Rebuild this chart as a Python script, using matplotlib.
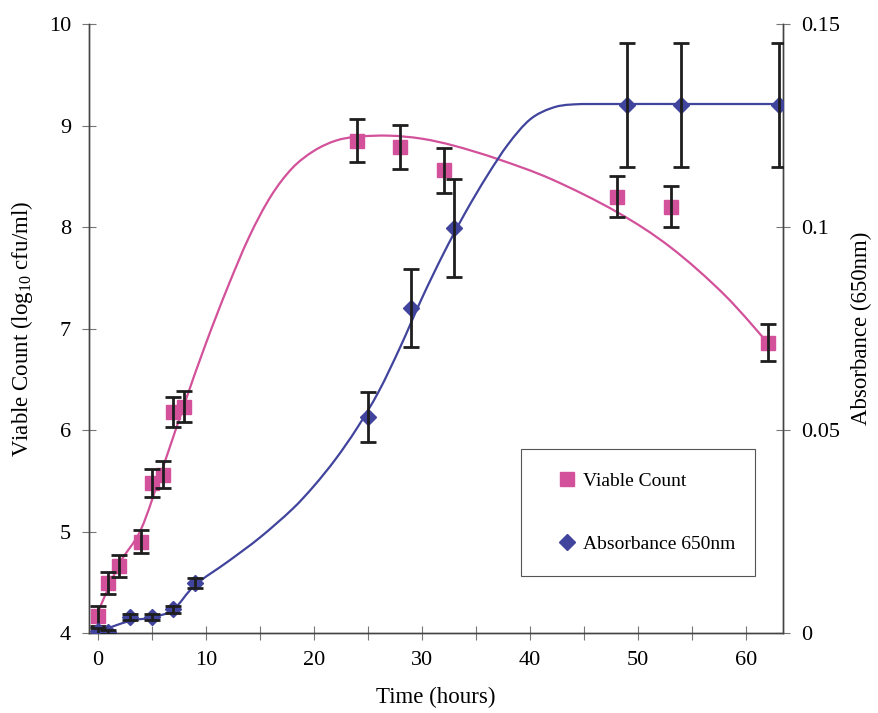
import matplotlib
matplotlib.use('Agg')
import matplotlib.pyplot as plt
import numpy as np
from matplotlib.path import Path
from matplotlib.patches import PathPatch
from matplotlib.lines import Line2D
from matplotlib.ticker import MultipleLocator, FormatStrFormatter

plt.rcParams['font.family'] = ['Liberation Serif', 'DejaVu Serif']
plt.rcParams['mathtext.fontset'] = 'custom'
plt.rcParams['mathtext.rm'] = 'Liberation Serif'

# viable count, log10 cfu/ml
vc_time = [0, 1, 2, 4, 5, 6, 7, 8, 24, 28, 32, 48, 53, 62]
vc = [4.17, 4.49, 4.66, 4.90, 5.48, 5.56, 6.18, 6.23, 8.85, 8.79, 8.56, 8.30, 8.20, 6.86]
vc_err = [0.10, 0.11, 0.11, 0.11, 0.14, 0.13, 0.15, 0.15, 0.21, 0.22, 0.22, 0.20, 0.20, 0.18]

# absorbance at 650 nm
abs_time = [0, 1, 3, 5, 7, 9, 25, 29, 33, 49, 54, 63]
abs650 = [0.0004, 0.0002, 0.0040, 0.0040, 0.0058, 0.0123, 0.0532, 0.0800, 0.0998, 0.1300, 0.1300, 0.1300]
abs_err = [0.0008, 0.0005, 0.0007, 0.0007, 0.0008, 0.0013, 0.0062, 0.0096, 0.0121, 0.0153, 0.0153, 0.0153]

# trend lines drawn through the data
vc_fit_time = [0, 2, 4, 6, 8, 10, 12, 14, 16, 18, 20, 22, 24, 27, 30, 33, 37, 42, 48, 53, 58, 62.3]
vc_fit = [4.2, 4.68, 5.02, 5.62, 6.25, 6.85, 7.4, 7.9, 8.3, 8.58, 8.75, 8.85, 8.89, 8.9, 8.87, 8.8,
          8.67, 8.47, 8.15, 7.8, 7.33, 6.82]
abs_fit_time = [0, 3, 5, 7, 9, 12, 15, 18, 20, 22, 24, 26, 28, 30, 32, 34, 36, 38, 40, 42, 44, 48, 55, 63]
abs_fit = [0.0003, 0.003, 0.0038, 0.0058, 0.0118, 0.0175, 0.0235, 0.0305, 0.0362, 0.0428, 0.0505,
           0.0595, 0.0705, 0.0825, 0.0935, 0.1035, 0.1125, 0.1205, 0.1265, 0.1293, 0.1302, 0.1303,
           0.1303, 0.1303]

PINK = '#d2519a'
BLUE = '#41449c'
BAR = '#1e1e1e'


def smooth_path(xs, ys):
    # Catmull-Rom through the points, written as cubic Bezier segments
    pts = np.column_stack([xs, ys]).astype(float)
    pts = np.vstack([pts[0], pts, pts[-1]])
    verts = [pts[1]]
    codes = [Path.MOVETO]
    for i in range(1, len(pts) - 2):
        p0, p1, p2, p3 = pts[i - 1], pts[i], pts[i + 1], pts[i + 2]
        verts += [p1 + (p2 - p0) / 6, p2 - (p3 - p1) / 6, p2]
        codes += [Path.CURVE4] * 3
    return Path(verts, codes)


fig = plt.figure(figsize=(8.79, 7.13), dpi=100)
ax = fig.add_axes([0.1013, 0.1122, 0.7895, 0.8541])
ax2 = ax.twinx()

ax.add_patch(PathPatch(smooth_path(vc_fit_time, vc_fit), fill=False, edgecolor=PINK, lw=1.6, zorder=2))
ax.errorbar(vc_time, vc, yerr=vc_err, fmt='none', ecolor=BAR, elinewidth=2.0, capsize=5.5, capthick=2.0, zorder=4)
ax.plot(vc_time, vc, 's', color=PINK, markersize=10, zorder=3)

ax2.add_patch(PathPatch(smooth_path(abs_fit_time, abs_fit), fill=False, edgecolor=BLUE, lw=1.6, zorder=2))
ax2.errorbar(abs_time, abs650, yerr=abs_err, fmt='none', ecolor=BAR, elinewidth=2.0, capsize=5.5, capthick=2.0, zorder=4)
ax2.plot(abs_time, abs650, 'D', color=BLUE, markersize=8, zorder=3)

ax.set_xlim(-0.8, 63.4)
ax.set_ylim(4, 10)
ax2.set_ylim(0, 0.15)

ax.xaxis.set_major_locator(MultipleLocator(10))
ax.xaxis.set_minor_locator(MultipleLocator(5))
ax.yaxis.set_major_locator(MultipleLocator(1))
ax2.yaxis.set_major_locator(MultipleLocator(0.05))
ax2.yaxis.set_major_formatter(FormatStrFormatter('%g'))

for a in (ax, ax2):
    a.spines['top'].set_visible(False)
    for s in a.spines.values():
        s.set_color('#444444')
        s.set_linewidth(1.0)
ax.tick_params(axis='both', which='both', direction='inout', length=10, width=0.8, color='#777777',
               labelsize=16, pad=8)
ax.tick_params(axis='x', which='minor', length=10)
ax2.tick_params(axis='y', direction='inout', length=10, width=0.8, color='#777777', labelsize=16, pad=8)

ax.set_xlabel('Time (hours)', fontsize=16.5, labelpad=12)
ax.set_ylabel('Viable Count (log$_{10}$ cfu/ml)', fontsize=16.5, labelpad=10)
ax2.set_ylabel('Absorbance (650nm)', fontsize=16.5, labelpad=8)

handles = [Line2D([], [], ls='none', marker='s', color=PINK, markersize=10),
           Line2D([], [], ls='none', marker='D', color=BLUE, markersize=8)]
leg = ax2.legend(handles, ['Viable Count', 'Absorbance 650nm'], loc='upper left',
                 bbox_to_anchor=(511 / 879, 145 / 713, 254 / 879, 129 / 713),
                 bbox_transform=fig.transFigure, mode='expand', fontsize=14,
                 borderpad=1.2, labelspacing=2.35, handlelength=2.4, handletextpad=-0.4,
                 fancybox=False, framealpha=1, edgecolor='#555555')
leg.get_frame().set_linewidth(0.8)

fig.savefig('out.png', dpi=100)
